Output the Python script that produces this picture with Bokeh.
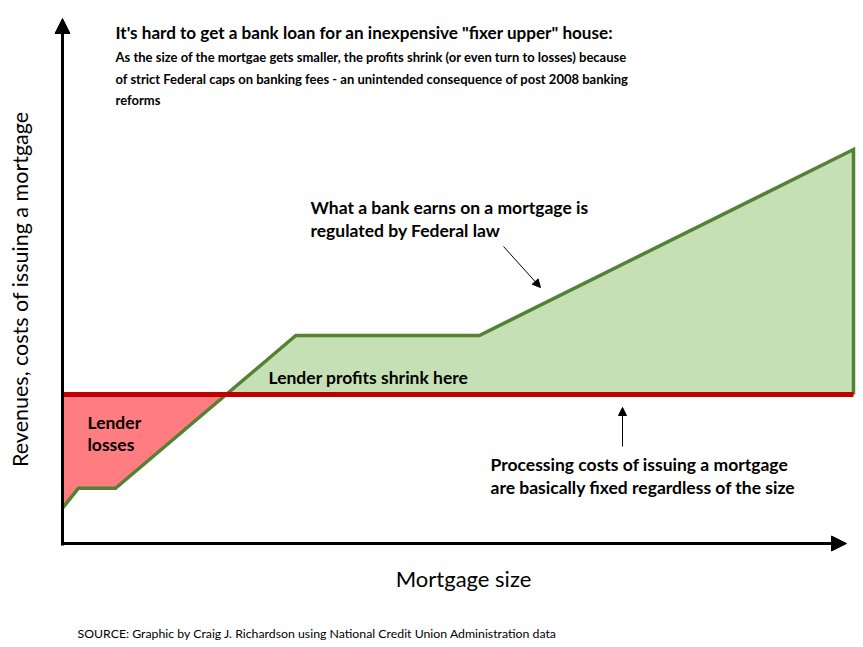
import numpy as np
from bokeh.plotting import figure
from bokeh.models import Range1d, Label, Arrow, NormalHead
from bokeh.embed import file_html
from bokeh.resources import INLINE

# ---- data (arbitrary units: mortgage size 0..100, amount 0..100) ----
revenue_x = [0, 2, 6.7, 29.5, 52.7, 100]
revenue_y = [9, 14, 14, 52.8, 52.8, 100]
cost_x = [0, 100]
cost_y = [37.8, 37.8]

title = "It's hard to get a bank loan for an inexpensive \"fixer upper\" house:"
subtitle = ["As the size of the mortgae gets smaller, the profits shrink (or even turn to losses) because",
            "of strict Federal caps on banking fees - an unintended consequence of post 2008 banking",
            "reforms"]
x_label = "Mortgage size"
y_label = "Revenues, costs of  issuing a mortgage"
source = "SOURCE:  Graphic by Craig J. Richardson using National Credit Union Administration data"

# ---- layout helpers (screen pixel -> data units) ----
OX, OY, SX, SY = 62.0, 543.0, 7.91, 3.94
PAD = 0
def dx(px):
    return (px - OX) / SX
def dy(py):
    return (OY - py) / SY

W, H = 863, 647
p = figure(width=W, height=H, output_backend="svg", toolbar_location=None,
           x_range=Range1d(dx(PAD), dx(PAD + W)), y_range=Range1d(dy(PAD + H), dy(PAD)),
           x_axis_type=None, y_axis_type=None, min_border=0)
p.outline_line_color = None
p.background_fill_color = "white"
p.border_fill_color = "white"

# ---- split revenue at the cost level ----
c = cost_y[0]
rx = np.array(revenue_x, float)
ry = np.array(revenue_y, float)
xs, ys = [rx[0]], [ry[0]]
for i in range(1, len(rx)):
    if (ry[i-1] - c) * (ry[i] - c) < 0:
        t = (c - ry[i-1]) / (ry[i] - ry[i-1])
        xs.append(rx[i-1] + t * (rx[i] - rx[i-1]))
        ys.append(c)
    xs.append(rx[i]); ys.append(ry[i])
xs = np.array(xs); ys = np.array(ys)

p.varea(x=xs, y1=np.minimum(ys, c), y2=c, fill_color="#FF7C80")
p.varea(x=xs, y1=c, y2=np.maximum(ys, c), fill_color="#C5E0B4")

outline_x = list(revenue_x) + [revenue_x[-1]]
outline_y = list(revenue_y) + [c]
p.line(outline_x, outline_y, line_color="#548235", line_width=3.5, line_join="miter")
p.line(cost_x, cost_y, line_color="#C00000", line_width=5)

# ---- axes with arrowheads ----
p.add_layout(Arrow(end=NormalHead(size=15, fill_color="black", line_color="black"),
                   x_start=0, y_start=dy(545), x_end=0, y_end=dy(18), line_width=3))
p.add_layout(Arrow(end=NormalHead(size=15, fill_color="black", line_color="black"),
                   x_start=dx(61), y_start=0, x_end=dx(846), y_end=0, line_width=3))

# ---- annotation arrows ----
p.add_layout(Arrow(end=NormalHead(size=8, fill_color="black", line_color="black"),
                   x_start=dx(503), y_start=dy(246), x_end=dx(540), y_end=dy(287), line_width=1))
p.add_layout(Arrow(end=NormalHead(size=8, fill_color="black", line_color="black"),
                   x_start=dx(622), y_start=dy(446), x_end=dx(622), y_end=dy(407), line_width=1))

FONT = "Lato"
def lab(text, px, py, size, bold=True, align="left", angle=0, font=FONT):
    p.add_layout(Label(x=dx(px), y=dy(py), text=text, text_font=font,
                       text_font_size=f"{size}px", text_font_style="bold" if bold else "normal",
                       text_align=align, text_baseline="middle", text_color="black", angle=angle))

lab(title, 115, 32, 17.1)
for i, line in enumerate(subtitle):
    lab(line, 115, [56, 78, 99][i], 13)
lab("What a bank earns on a mortgage is", 310, 207, 17.5)
lab("regulated by Federal law", 310, 230, 17.5)
lab("Lender profits shrink here", 268, 377, 17.5)
lab("Lender", 87, 422, 17.5)
lab("losses", 87, 444, 17.5)
lab("Processing costs of issuing a mortgage", 490, 464, 17.5)
lab("are basically fixed regardless of the size", 490, 487, 17.5)
lab(x_label, 463, 578, 22, bold=False, align="center")
lab(y_label, 19, 286, 21.5, bold=False, align="center", angle=np.pi / 2)
lab(source, 77, 633, 12.3, bold=False)

open("out.html", "w").write(file_html(p, INLINE))
